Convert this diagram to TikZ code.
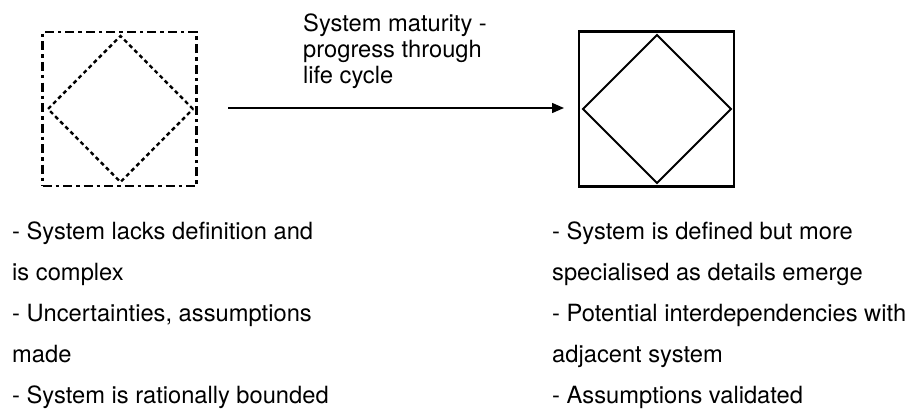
\documentclass[tikz,border=0pt]{standalone}
\usepackage{fontspec}
\setmainfont{TeX Gyre Heros}
\usetikzlibrary{shapes.geometric,arrows.meta}
\begin{document}
\begin{tikzpicture}[x=1pt,y=-1pt,
  txt/.style={anchor=base west,inner sep=0pt,font=\fontsize{23.7}{26}\selectfont},
  sqdash/.style={draw,line width=2.8pt,minimum size=154pt,inner sep=0pt,outer sep=0pt,
     dash pattern=on 9pt off 4pt on 3.5pt off 4pt},
  sqsolid/.style={draw,line width=2.6pt,minimum size=155pt,inner sep=0pt,outer sep=0pt},
  dmdash/.style={diamond,draw,line width=2.4pt,inner sep=0pt,outer sep=0pt,
     minimum width=145pt,minimum height=146pt,dash pattern=on 4pt off 3.2pt},
  dmsolid/.style={diamond,draw,line width=2.1pt,inner sep=0pt,outer sep=0pt,
     minimum width=148pt,minimum height=148pt},
  flow/.style={line width=1.4pt,-{Triangle[length=12pt,width=10pt]}}]
\useasboundingbox (0,0) rectangle (909,412);
% left system
\node[sqdash] (s1) at (119.5,109) {};
\node[dmdash] (d1) at (120.5,109) {};
% right system
\node[sqsolid] (s2) at (656.5,109) {};
\node[dmsolid] (d2) at (657,109) {};
% arrow
\coordinate (a0) at (228,108);
\coordinate (a1) at (564,108);
\draw[flow] (a0) -- (a1);
\node[txt] (l1) at (303,31.5) {System maturity -};
\node[txt] (l2) at (303,57.3) {progress through};
\node[txt] (l3) at (303,83.1) {life cycle};
% left text
\node[txt] (p1) at (12,239) {- System lacks definition and};
\node[txt] (p2) at (12,280) {is complex};
\node[txt] (p3) at (12,321) {- Uncertainties, assumptions};
\node[txt] (p4) at (12,362) {made};
\node[txt] (p5) at (12,403) {- System is rationally bounded};
% right text
\node[txt] (q1) at (552,239) {- System is defined but more};
\node[txt] (q2) at (552,280) {specialised as details emerge};
\node[txt] (q3) at (552,321) {- Potential interdependencies with};
\node[txt] (q4) at (552,362) {adjacent system};
\node[txt] (q5) at (552,403) {- Assumptions validated};
\end{tikzpicture}
\end{document}
